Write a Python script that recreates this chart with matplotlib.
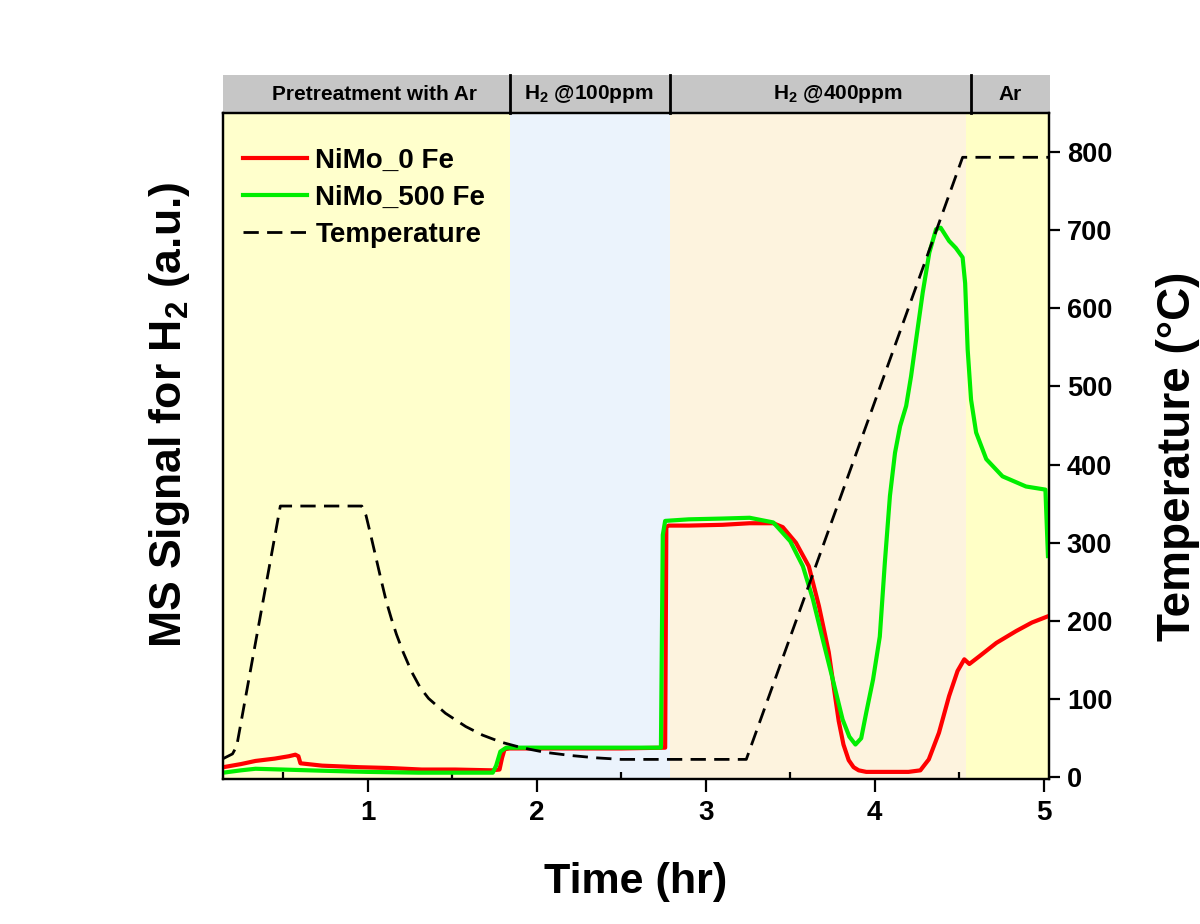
import matplotlib
matplotlib.use('Agg')
import matplotlib.pyplot as plt
from matplotlib import transforms
from matplotlib.ticker import MultipleLocator

plt.rcParams['font.family'] = ['Liberation Sans', 'DejaVu Sans']
plt.rcParams['font.weight'] = 'bold'
plt.rcParams['mathtext.fontset'] = 'custom'
plt.rcParams['mathtext.rm'] = 'Liberation Sans:bold'
plt.rcParams['mathtext.it'] = 'Liberation Sans:bold'
plt.rcParams['mathtext.bf'] = 'Liberation Sans:bold'
plt.rcParams['mathtext.default'] = 'bf'

# MS signal, NiMo_0 Fe (a.u.)
t_red = [0.145, 0.25, 0.336, 0.45, 0.533, 0.572, 0.590, 0.602, 0.73, 0.95, 1.124, 1.32,
         1.518, 1.735, 1.78, 1.795, 1.81, 1.84, 2.2, 2.5, 2.76, 2.767, 2.78, 2.9, 3.1,
         3.26, 3.40, 3.456, 3.534, 3.61, 3.67, 3.728, 3.76, 3.787, 3.815, 3.846, 3.875,
         3.905, 3.95, 4.0, 4.1, 4.2, 4.27, 4.32, 4.38, 4.44, 4.49, 4.53, 4.56, 4.62,
         4.72, 4.836, 4.93, 5.025]
s_red = [13, 17, 21, 24, 27, 29, 27, 18, 15, 13, 12, 10,
         10, 9, 10, 25, 36, 37, 37, 37, 38, 320, 322, 322, 323,
         325, 325, 320, 300, 270, 219, 160, 112, 72, 42, 22, 13,
         9, 7, 7, 7, 7, 9, 23, 57, 104, 136, 151, 145, 155,
         172, 187, 198, 206]

# MS signal, NiMo_500 Fe (a.u.)
t_green = [0.145, 0.25, 0.336, 0.5, 0.73, 1.0, 1.3, 1.6, 1.74, 1.76, 1.785, 1.82, 1.9,
           2.2, 2.5, 2.735, 2.746, 2.76, 2.9, 3.1, 3.26, 3.40, 3.50, 3.575, 3.634,
           3.693, 3.752, 3.81, 3.85, 3.886, 3.92, 3.95, 3.99, 4.03, 4.06, 4.09, 4.12,
           4.15, 4.186, 4.215, 4.245, 4.284, 4.323, 4.363, 4.39, 4.44, 4.48, 4.52,
           4.535, 4.55, 4.57, 4.6, 4.66, 4.756, 4.895, 5.01, 5.025]
s_green = [6, 9, 11, 10, 8.5, 7, 6, 6, 6, 15, 33, 38, 38,
           38, 38, 38, 310, 328, 330, 331, 332, 326, 302, 270, 228,
           176, 125, 74, 52, 42, 50, 83, 125, 180, 275, 360, 415,
           449, 475, 513, 560, 620, 671, 701, 703, 686, 677, 665,
           632, 547, 483, 441, 407, 385, 372, 368, 283]

# Temperature program (degC)
t_temp = [0.145, 0.20, 0.225, 0.483, 0.965, 0.99, 1.02, 1.05, 1.08, 1.11, 1.14, 1.17,
          1.21, 1.26, 1.31, 1.36, 1.46, 1.58, 1.68, 1.79, 1.91, 2.05, 2.2, 2.35, 2.5,
          3.24, 4.52, 5.03]
temp = [24, 30, 40, 347, 347, 335, 308, 280, 252, 225, 203, 183,
        160, 135, 115, 101, 82, 65, 54, 45, 38, 32, 28, 25, 23,
        23, 793, 793]

# Gas steps
step_edges = [0.145, 1.842, 2.79, 4.54, 5.03]
step_colors = ['#FFFFCC', '#EBF3FC', '#FDF3DE', '#FFFFC6']
header_edges = [0.145, 1.842, 2.79, 4.57, 5.04]
header_labels = ['Pretreatment with Ar', 'H$_2$ @100ppm', 'H$_2$ @400ppm', 'Ar']
header_pos = [1.04, 2.31, 3.78, 4.8]

fig = plt.figure(figsize=(12, 9.24), dpi=100)
ax = fig.add_axes([0.186, 0.157, 0.688, 0.721])
ax2 = ax.twinx()

for i in range(len(step_colors)):
    ax.axvspan(step_edges[i], step_edges[i + 1], color=step_colors[i], lw=0, zorder=0)

ax.plot(t_red, s_red, color='#FF0000', lw=3, label='NiMo_0 Fe', zorder=3)
ax.plot(t_green, s_green, color='#00EE00', lw=3, label='NiMo_500 Fe', zorder=4)
ax2.plot(t_temp, temp, color='black', lw=2, dashes=(5.5, 3), label='Temperature')

ax.set_xlim(0.145, 5.03)
ax.set_ylim(-2, 850)
ax2.set_ylim(-2, 850)

# header bar
trans = transforms.blended_transform_factory(ax.transData, ax.transAxes)
ax.add_patch(plt.Rectangle((header_edges[0], 1.0), header_edges[-1] - header_edges[0], 0.057,
                           transform=trans, facecolor='#C6C6C6', edgecolor='none', clip_on=False))
for b in header_edges[1:-1]:
    ax.plot([b, b], [1.0, 1.057], transform=trans, color='black', lw=2, clip_on=False)
for lab, xp in zip(header_labels, header_pos):
    ax.text(xp, 1.028, lab, transform=trans, ha='center', va='center', fontsize=15,
            fontweight='bold')

for sp in ax.spines.values():
    sp.set_linewidth(1.6)
for sp in ax2.spines.values():
    sp.set_linewidth(1.6)

ax.xaxis.set_major_locator(MultipleLocator(1))
ax.xaxis.set_minor_locator(MultipleLocator(0.5))
ax.tick_params(axis='x', which='major', direction='out', length=9, width=1.6,
               labelsize=20, pad=6)
ax.tick_params(axis='x', which='minor', direction='in', length=5, width=1.6)
ax.tick_params(axis='y', left=False, labelleft=False)
ax2.yaxis.set_major_locator(MultipleLocator(100))
ax2.tick_params(axis='y', direction='out', length=8, width=1.6, labelsize=19.5, pad=5)
for lab in ax.get_xticklabels() + ax2.get_yticklabels():
    lab.set_fontweight('bold')

ax.set_xlabel('Time (hr)', fontsize=31, fontweight='bold', labelpad=26)
ax.set_ylabel('MS Signal for H$_2$ (a.u.)', fontsize=32, fontweight='bold')
ax.yaxis.set_label_coords(-0.038, 0.547)
ax2.set_ylabel('Temperature (\u00b0C)', fontsize=33, fontweight='bold')
ax2.yaxis.set_label_coords(1.13, 0.485)

h1, l1 = ax.get_legend_handles_labels()
h2, l2 = ax2.get_legend_handles_labels()
ax2.legend(h1 + h2, l1 + l2, loc='upper left', bbox_to_anchor=(-0.006, 0.985), frameon=False,
           prop={'size': 20, 'weight': 'bold'}, handlelength=2.3, handletextpad=0.3,
           labelspacing=0.4, borderaxespad=0.5)

fig.savefig('out.png', dpi=100)
